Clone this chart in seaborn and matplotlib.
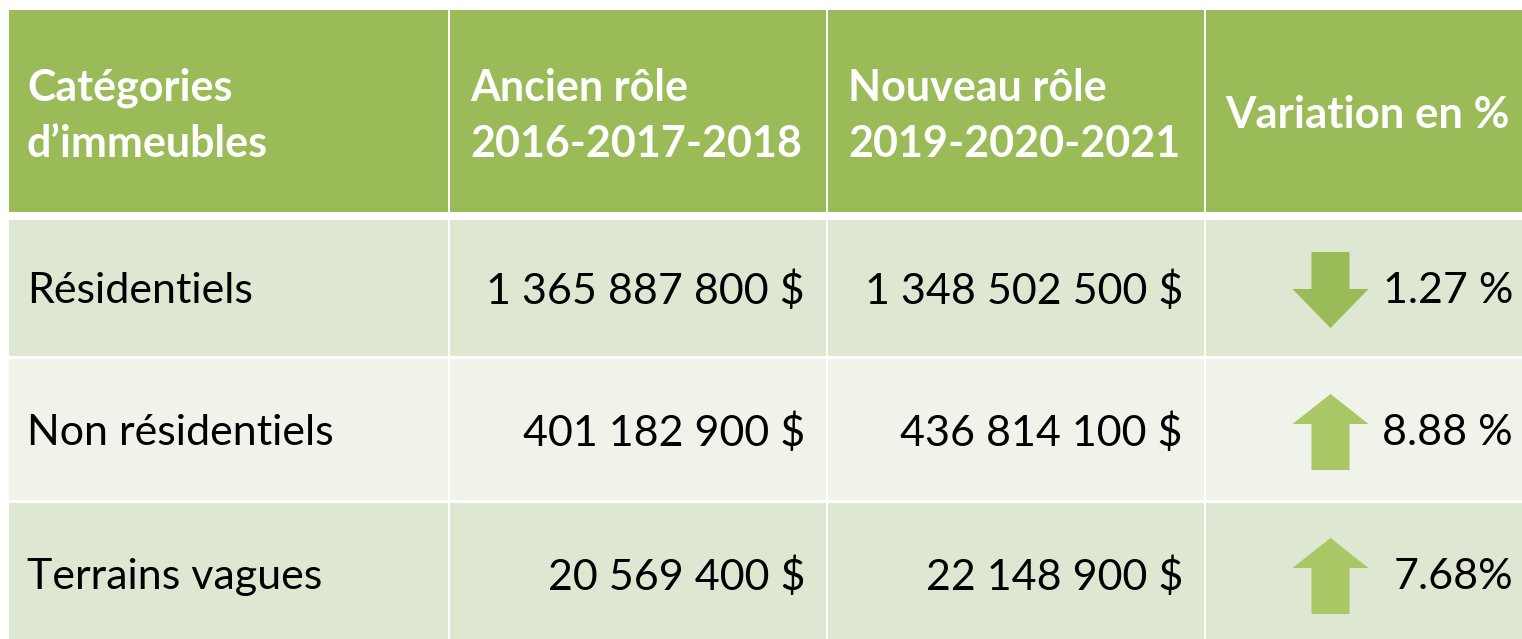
import seaborn as sns
import matplotlib.pyplot as plt
from matplotlib.patches import Rectangle, Polygon

# -----------------------------
# 1. Table data
# -----------------------------
headers = ["Catégories\nd’immeubles", "Ancien rôle\n2016-2017-2018",
           "Nouveau rôle\n2019-2020-2021", "Variation en %"]
categories = ["Résidentiels", "Non résidentiels", "Terrains vagues"]
ancien_role = ["1 365 887 800 $", "401 182 900 $", "20 569 400 $"]
nouveau_role = ["1 348 502 500 $", "436 814 100 $", "22 148 900 $"]
variation = ["1.27 %", "8.88 %", "7.68%"]
direction = [-1, 1, 1]  # arrow down / up

# -----------------------------
# 2. Styling
# -----------------------------
sns.set_theme(style="white")
plt.rcParams["font.family"] = ["Lato", "DejaVu Sans"]

header_green = "#9BBB59"
band_dark = "#DEE7D1"
band_light = "#EFF3EA"
arrow_down = "#9BBB59"
arrow_up = "#A9C865"

W, H = 1522, 639
fig = plt.figure(figsize=(W / 100, H / 100), dpi=100)
ax = fig.add_axes([0, 0, 1, 1])
ax.set_xlim(0, W)
ax.set_ylim(H, 0)
ax.axis("off")

# layout in pixels
col_x = [9, 450, 828, 1206, W]
gap = 2.5

# header row
for c in range(4):
    x0 = col_x[c] if c == 0 else col_x[c] - 0.5
    x1 = col_x[c + 1] - gap if c < 3 else W
    ax.add_patch(Rectangle((x0, 10), x1 - x0, 202, color=header_green, lw=0))

# body rows
body_top = [220, 358.5, 502.5]
body_bot = [356, 500, H + 5]
for r in range(3):
    fill = band_dark if r % 2 == 0 else band_light
    for c in range(4):
        x0 = col_x[c] if c == 0 else col_x[c] - 0.5
        x1 = col_x[c + 1] - gap if c < 3 else W
        ax.add_patch(Rectangle((x0, body_top[r]), x1 - x0, body_bot[r] - body_top[r],
                               color=fill, lw=0))

# header text
hfs = 31
hls = 1.48
for x, label in zip([27, 470, 848], headers[:3]):
    ax.text(x, 116, label, color="white", fontsize=hfs, fontweight="bold",
            ha="left", va="center", linespacing=hls)
ax.text(1225, 115, headers[3], color="white", fontsize=31.5, fontweight="bold",
        ha="left", va="center")

# body text + arrows
bfs = 31
row_center = [291, 433, 577]
for r in range(3):
    yc = row_center[r]
    ax.text(27, yc, categories[r], fontsize=bfs, color="black", ha="left", va="center")
    ax.text(805, yc, ancien_role[r], fontsize=bfs, color="black", ha="right", va="center")
    ax.text(1183, yc, nouveau_role[r], fontsize=bfs, color="black", ha="right", va="center")
    ax.text(1513, yc, variation[r], fontsize=bfs, color="black", ha="right", va="center")

    # block arrow
    cx, half_w, shaft = 1330.5, 38, 19
    top, bot = yc - 39, yc + 37
    if direction[r] < 0:
        neck = yc - 2
        pts = [(cx - shaft, top), (cx + shaft, top), (cx + shaft, neck),
               (cx + half_w, neck), (cx, bot), (cx - half_w, neck), (cx - shaft, neck)]
        col = arrow_down
    else:
        neck = yc - 9
        pts = [(cx, top), (cx + half_w, neck), (cx + shaft, neck), (cx + shaft, bot),
               (cx - shaft, bot), (cx - shaft, neck), (cx - half_w, neck)]
        col = arrow_up
    ax.add_patch(Polygon(pts, closed=True, color=col, lw=0))

plt.savefig("out.png", dpi=100)
plt.close()
